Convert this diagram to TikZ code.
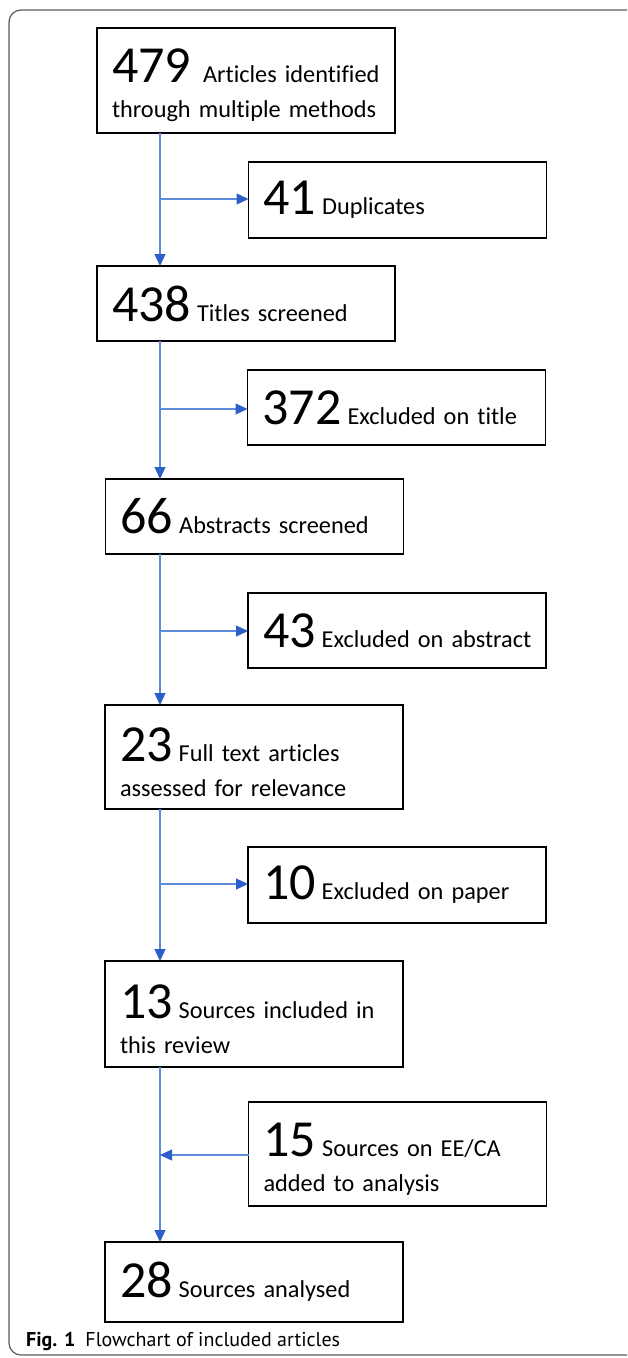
\documentclass[tikz,border=0pt]{standalone}
\usepackage{fontspec}
\setmainfont{Carlito}[Ligatures=NoCommon]
\newfontfamily\capfont{PT Sans}
\usetikzlibrary{arrows.meta}
\definecolor{lineblue}{RGB}{92,140,220}
\definecolor{tipblue}{RGB}{45,95,200}
\definecolor{framegray}{RGB}{90,90,90}
\newcommand{\bnum}[2][6pt]{{\fontsize{52}{52}\selectfont #2}\hspace{#1}}
\newcommand{\tstrut}{\rule{0pt}{44pt}}
\newcommand{\boxfont}{\fontsize{24.3}{35}\selectfont\hyphenpenalty=10000\relax\hbadness=10000\relax\hfuzz=20pt\relax}
\begin{document}
\begin{tikzpicture}[x=1pt,y=-1pt,
  box/.style={draw=black,line width=1.4pt,outer sep=0pt,inner xsep=15pt,inner ysep=0pt,
    align=left,minimum width=298pt,text width=268pt,anchor=center,
    font=\boxfont},
  conn/.style={draw=lineblue,line width=1.3pt},
  arr/.style={conn,-{Triangle[length=12pt,width=11pt,color=tipblue]}}]
\useasboundingbox (0,0) rectangle (627,1358);
\begin{scope}
  \clip (0,0) rectangle (627,1358);
  \draw[framegray,line width=1.2pt,rounded corners=12pt] (9,10) rectangle (680,1355);
\end{scope}
% boxes
\node[box,minimum height=105pt] (b1) at (246,80.5) {\tstrut\bnum[12pt]{479}Articles identified\\through multiple methods};
\node[box,minimum height=76pt] (b2) at (397.5,200) {\bnum{41}Duplicates};
\node[box,minimum height=75pt] (b3) at (246,303.5) {\bnum{438}Titles screened};
\node[box,minimum height=75pt] (b4) at (396.5,407.5) {\bnum{372}Excluded on title};
\node[box,minimum height=75pt] (b5) at (254.5,516.5) {\bnum{66}Abstracts screened};
\node[box,minimum height=75pt] (b6) at (397,630.5) {\mbox{\bnum{43}Excluded on abstract}};
\node[box,minimum height=104pt] (b7) at (254,757) {\tstrut\bnum{23}Full text articles\\assessed for relevance};
\node[box,minimum height=76pt] (b8) at (397,885) {\bnum{10}Excluded on paper};
\node[box,minimum height=106pt] (b9) at (254,1014) {\tstrut\bnum{13}Sources included in\\this review};
\node[box,minimum height=104pt] (b10) at (397.5,1154) {\tstrut\bnum{15}Sources on EE/CA\\added to analysis};
\node[box,minimum height=80pt] (b11) at (254,1282) {\bnum{28}Sources analysed};
% junctions
\coordinate (j1) at (160,199);
\coordinate (j2) at (160,409);
\coordinate (j3) at (160,631);
\coordinate (j4) at (160,884);
\coordinate (j5) at (160,1155);
% connectors
\draw[arr] (b1.south -| j1) -- (b3.north -| j1);
\draw[arr] (j1) -- (b2.west |- j1);
\draw[arr] (b3.south -| j2) -- (b5.north -| j2);
\draw[arr] (j2) -- (b4.west |- j2);
\draw[arr] (b5.south -| j3) -- (b7.north -| j3);
\draw[arr] (j3) -- (b6.west |- j3);
\draw[arr] (b7.south -| j4) -- (b9.north -| j4);
\draw[arr] (j4) -- (b8.west |- j4);
\draw[arr] (b9.south -| j5) -- (b11.north -| j5);
\draw[arr] (b10.west |- j5) -- (j5);
% caption
\node[anchor=base west,inner sep=0pt,font=\capfont\fontsize{20}{22}\selectfont] (cap) at (26,1346) {\textbf{Fig. 1}\hspace{10pt}Flowchart of included articles};
\end{tikzpicture}
\end{document}
